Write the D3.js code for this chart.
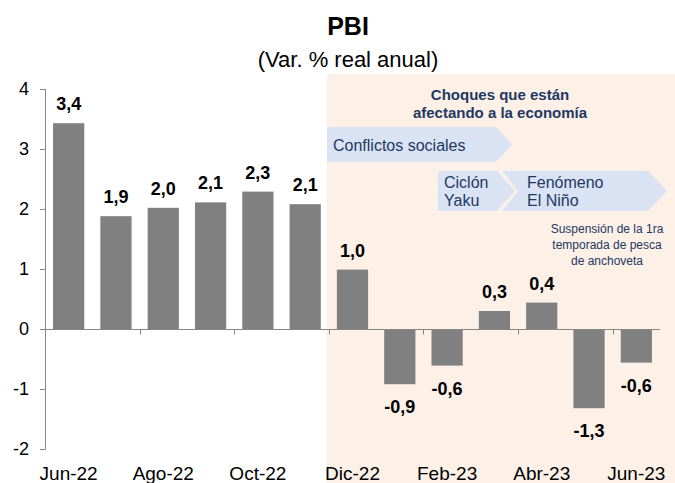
<!DOCTYPE html>
<html>
<head>
<meta charset="utf-8">
<script src="https://cdn.jsdelivr.net/npm/d3@7"></script>
<style>
  body { margin: 0; background: #fff; }
  svg { display: block; font-family: "Liberation Sans", Arial, sans-serif; }
</style>
</head>
<body>
<div id="chart"></div>
<script>
// data
const months = ['Jun-22', 'Jul-22', 'Ago-22', 'Sep-22', 'Oct-22', 'Nov-22', 'Dic-22',
  'Ene-23', 'Feb-23', 'Mar-23', 'Abr-23', 'May-23', 'Jun-23'];
const pbi = [3.43, 1.88, 2.02, 2.11, 2.29, 2.08, 0.99, -0.92, -0.61, 0.3, 0.44, -1.32, -0.56];
const yTicks = [-2, -1, 0, 1, 2, 3, 4];
const shockStart = 'Dic-22';

const width = 675;
const height = 483;
const navy = '#1f3864';
const chevronFill = '#dae3f3';

const svg = d3.select('#chart').append('svg')
  .attr('width', width)
  .attr('height', height);

const x = d3.scaleBand()
  .domain(months)
  .range([45, 660])
  .paddingInner(0.34)
  .paddingOuter(0.17);

const y = d3.scaleLinear()
  .domain([-2, 4])
  .range([449, 89]);

const step = x.step();
const bandStart = (m) => x(m) - x.paddingOuter() * step;

// shaded shock period
svg.append('rect')
  .attr('x', bandStart(shockStart) - 2)
  .attr('y', 74)
  .attr('width', width - bandStart(shockStart) + 2)
  .attr('height', height - 74)
  .attr('fill', '#fcf0e7');

// titles
svg.append('text')
  .attr('x', 348).attr('y', 35)
  .attr('text-anchor', 'middle')
  .style('font-size', '25px').style('font-weight', 'bold')
  .text('PBI');

svg.append('text')
  .attr('x', 348).attr('y', 67)
  .attr('text-anchor', 'middle')
  .style('font-size', '22px')
  .text('(Var. % real anual)');

// bars
svg.selectAll('.bar')
  .data(months)
  .enter()
  .append('rect')
  .attr('class', 'bar')
  .attr('x', (d) => x(d))
  .attr('width', x.bandwidth())
  .attr('y', (d, i) => y(Math.max(0, pbi[i])))
  .attr('height', (d, i) => Math.abs(y(pbi[i]) - y(0)))
  .attr('fill', '#808080');

// axes
const axisColor = '#868686';
svg.append('line')
  .attr('x1', 45.5).attr('x2', 45.5)
  .attr('y1', y(4)).attr('y2', y(-2))
  .attr('stroke', axisColor);

svg.selectAll('.ytick')
  .data(yTicks)
  .enter()
  .append('line')
  .attr('x1', 40).attr('x2', 45.5)
  .attr('y1', (d) => Math.round(y(d)) + 0.5)
  .attr('y2', (d) => Math.round(y(d)) + 0.5)
  .attr('stroke', axisColor);

svg.selectAll('.ylab')
  .data(yTicks)
  .enter()
  .append('text')
  .attr('x', 29)
  .attr('y', (d) => y(d) + 6)
  .attr('text-anchor', 'end')
  .style('font-size', '18px')
  .text((d) => d);

const y0 = Math.round(y(0)) + 0.5;
svg.append('line')
  .attr('x1', 45).attr('x2', 660)
  .attr('y1', y0).attr('y2', y0)
  .attr('stroke', axisColor);

const labelled = months.filter((d, i) => i % 2 === 0);

svg.selectAll('.xtick')
  .data(labelled)
  .enter()
  .append('line')
  .attr('x1', (d) => Math.round(bandStart(d)) + 0.5)
  .attr('x2', (d) => Math.round(bandStart(d)) + 0.5)
  .attr('y1', y0).attr('y2', y0 + 5)
  .attr('stroke', axisColor);

svg.selectAll('.xlab')
  .data(labelled)
  .enter()
  .append('text')
  .attr('x', (d) => x(d) + x.bandwidth() / 2)
  .attr('y', 480)
  .attr('text-anchor', 'middle')
  .style('font-size', '19px')
  .text((d) => d);

// value labels
const fmt = (v) => d3.format('.1f')(v).replace('.', ',').replace('−', '-');
svg.selectAll('.vlab')
  .data(months)
  .enter()
  .append('text')
  .attr('x', (d) => x(d) + x.bandwidth() / 2)
  .attr('y', (d, i) => (pbi[i] >= 0 ? y(pbi[i]) - 13 : y(pbi[i]) + 29))
  .attr('text-anchor', 'middle')
  .style('font-size', '18px')
  .style('font-weight', 'bold')
  .text((d, i) => fmt(pbi[i]));

// annotations
const notes = svg.append('g').attr('fill', navy);

notes.append('text')
  .attr('x', 500).attr('y', 100)
  .attr('text-anchor', 'middle')
  .style('font-size', '15px').style('font-weight', 'bold')
  .text('Choques que están');
notes.append('text')
  .attr('x', 500).attr('y', 118)
  .attr('text-anchor', 'middle')
  .style('font-size', '15px').style('font-weight', 'bold')
  .text('afectando a la economía');

const chevrons = [
  { pts: [[327, 127], [496, 127], [512, 144.5], [496, 162], [327, 162]], lines: ['Conflictos sociales'], tx: 333, ty: [151] },
  { pts: [[438, 171], [497, 171], [515, 191], [497, 211], [438, 211]], lines: ['Ciclón', 'Yaku'], tx: 444, ty: [188, 206] },
  { pts: [[502, 171], [648, 171], [667, 191], [648, 211], [502, 211], [518, 191]], lines: ['Fenómeno', 'El Niño'], tx: 527, ty: [188, 206] },
];

chevrons.forEach((c) => {
  svg.append('polygon')
    .attr('points', c.pts.map((p) => p.join(',')).join(' '))
    .attr('fill', chevronFill);
  c.lines.forEach((l, i) => {
    svg.append('text')
      .attr('x', c.tx).attr('y', c.ty[i])
      .attr('fill', navy)
      .style('font-size', '16px')
      .text(l);
  });
});

['Suspensión de la 1ra', 'temporada de pesca', 'de anchoveta'].forEach((l, i) => {
  notes.append('text')
    .attr('x', 607).attr('y', 233 + i * 16)
    .attr('text-anchor', 'middle')
    .style('font-size', '12px')
    .text(l);
});
</script>
</body>
</html>
